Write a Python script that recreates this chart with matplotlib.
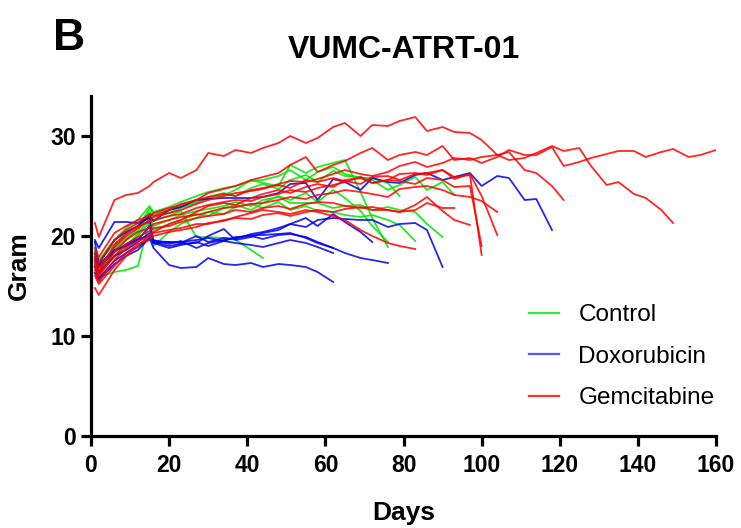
import matplotlib
matplotlib.use('Agg')
import matplotlib.pyplot as plt
from matplotlib.lines import Line2D

plt.rcParams['font.family'] = ['Liberation Sans', 'DejaVu Sans']

# Measurement days (shared grid); each mouse uses the first len(weights) days
DAYS = [1, 2, 6, 9, 12, 15, 16, 20, 23, 27, 30, 34, 37, 41, 44, 48, 51, 55, 58, 62,
        65, 69, 72, 76, 79, 83, 86, 90, 93, 97, 100, 104, 107, 111, 114, 118, 121, 125,
        128, 132, 135, 139, 142, 146, 149, 153, 156, 160]

GROUPS = ['Control', 'Doxorubicin', 'Gemcitabine']

control_weights = [
    [17.9, 17.0, 18.8, 19.8, 20.5, 22.3, 21.5, 22.0, 22.5, 19.9, 19.9, 19.8, 19.6, 18.6, 17.8],
    [17.6, 16.5, 18.6, 19.6, 20.8, 22.8, 22.2, 22.6, 22.9, 23.4, 23.8, 24.1, 24.6, 25.6, 25.3,
     25.0, 27.1, 26.3, 26.9, 27.3, 27.6, 24.4, 21.8, 18.9],
    [18.2, 17.4, 19.2, 20.3, 21.0, 22.4, 22.0, 22.3, 22.8, 23.3, 23.9, 24.3, 24.0, 24.8, 25.2,
     24.7, 25.6, 26.1, 25.4, 26.5, 26.0, 25.9, 25.6, 24.6, 25.1, 25.9, 24.6, 25.4, 24.1],
    [17.0, 16.2, 18.0, 19.0, 20.2, 21.8, 21.0, 21.6, 22.1, 22.5, 22.7, 23.0, 23.4, 23.0, 23.6,
     23.9, 23.3, 23.3, 23.3, 22.8, 23.0, 23.1, 22.6, 22.9, 22.6, 22.4, 21.2, 19.9],
    [16.3, 15.9, 16.4, 16.6, 17.0, 21.5, 19.0, 20.4, 21.2, 21.8, 22.4, 22.2, 22.9, 23.2, 22.8,
     23.4, 22.6, 23.0, 22.5, 22.4, 22.1, 21.9, 22.1, 21.6, 21.1, 19.5],
    [18.6, 17.6, 19.6, 20.8, 21.6, 23.0, 22.4, 22.9, 23.4, 24.0, 24.4, 24.8, 25.0, 25.5, 25.6,
     26.0, 26.6, 25.6, 26.4, 26.9, 26.2, 25.8, 25.8, 25.3, 24.0],
    [17.3, 16.8, 17.9, 19.0, 20.0, 21.4, 20.6, 21.2, 21.6, 22.2, 22.0, 22.8, 23.1, 22.6, 23.3,
     24.0, 23.6, 24.3, 23.4, 24.6, 23.8, 22.5, 21.0, 19.4],
]

doxorubicin_weights = [
    [16.9, 15.8, 17.5, 18.3, 18.9, 19.8, 18.8, 17.1, 16.8, 16.9, 17.8, 17.2, 17.1, 17.3, 16.9,
     17.2, 17.1, 16.9, 16.4, 15.4],
    [16.3, 15.6, 17.2, 18.0, 18.6, 19.8, 19.3, 18.8, 19.1, 19.4, 19.0, 19.5, 19.3, 19.1, 18.9,
     19.3, 19.6, 19.3, 18.9, 18.3],
    [17.5, 16.4, 18.0, 18.6, 19.4, 20.3, 19.6, 19.2, 19.5, 18.8, 19.3, 19.6, 19.8, 20.1, 20.1,
     20.2, 20.3, 19.8, 19.3, 18.8, 18.3, 17.8, 17.6, 17.3],
    [18.2, 17.1, 18.6, 19.0, 19.6, 21.0, 19.4, 19.0, 19.2, 19.3, 20.0, 20.7, 19.6, 19.9, 20.3,
     20.6, 21.2, 21.8, 21.0, 22.2, 21.4, 20.4, 19.4],
    [17.8, 16.9, 18.4, 19.2, 19.7, 20.0, 19.5, 19.4, 19.3, 20.0, 19.4, 19.8, 19.7, 20.2, 20.4,
     20.8, 21.2, 20.9, 21.6, 21.8, 21.7, 21.6, 21.6, 20.9, 21.2, 21.3, 20.6, 16.9],
    [19.4, 17.2, 19.6, 20.4, 21.0, 22.0, 21.5, 22.6, 22.9, 23.6, 23.7, 23.8, 23.8, 23.8, 23.9,
     24.3, 25.2, 25.3, 23.6, 25.7, 25.4, 24.6, 25.8, 25.4, 25.3, 26.1, 26.3, 25.6, 25.9, 26.3,
     25.0, 26.0, 25.8, 23.6, 23.7, 20.6],
    [19.6, 18.8, 21.4, 21.4, 21.3, 21.8, 19.3, 19.4, 19.4, 19.6, 19.8, 19.5, 19.9, 20.0, 19.7,
     20.1, 20.2, 19.9, 19.4, 18.8],
]

gemcitabine_weights = [
    [21.3, 19.9, 23.6, 24.1, 24.3, 25.0, 25.4, 26.3, 25.8, 26.6, 28.3, 28.0, 28.6, 28.3, 28.8,
     29.3, 30.0, 29.3, 29.8, 30.9, 31.3, 30.0, 31.1, 31.0, 31.5, 31.9, 30.5, 30.9, 30.4, 30.3,
     29.6, 28.1, 27.6, 27.8, 28.3, 29.0, 28.5, 28.8, 27.0, 25.1, 25.4, 24.2, 23.8, 22.6, 21.3],
    [18.4, 17.3, 19.6, 20.6, 21.3, 22.2, 22.0, 22.6, 23.2, 23.6, 24.3, 24.7, 25.0, 25.6, 25.9,
     26.3, 27.1, 27.9, 26.4, 27.1, 27.5, 28.3, 28.8, 27.6, 28.1, 28.4, 28.1, 29.0, 27.6, 27.8,
     27.3, 27.9, 28.6, 28.1, 28.1, 28.9, 27.0, 27.4, 27.8, 28.2, 28.5, 28.5, 27.9, 28.4, 28.7,
     27.9, 28.1, 28.6],
    [17.9, 16.8, 18.9, 20.0, 20.8, 21.6, 21.9, 22.3, 22.6, 23.2, 23.6, 24.0, 24.3, 24.5, 24.7,
     25.2, 25.5, 25.4, 25.7, 26.2, 26.6, 26.2, 26.0, 26.4, 27.0, 27.4, 26.9, 27.3, 27.8, 27.6,
     27.9, 28.1, 28.4, 26.6, 26.3, 25.0, 23.6],
    [17.6, 16.4, 19.1, 20.2, 21.0, 21.4, 21.6, 22.0, 22.2, 22.8, 23.1, 23.4, 23.6, 23.5, 23.9,
     24.2, 24.6, 24.4, 24.8, 25.1, 25.4, 25.9, 25.3, 25.6, 26.2, 26.3, 26.1, 26.6, 25.9, 26.1,
     18.1],
    [18.8, 17.9, 20.3, 21.0, 21.6, 22.0, 22.3, 22.8, 23.1, 23.6, 23.9, 24.2, 24.0, 24.6, 24.8,
     25.1, 24.8, 25.6, 25.4, 25.8, 25.5, 25.2, 25.9, 26.0, 25.6, 26.2, 26.3, 26.6, 25.7, 26.2,
     24.0, 20.1],
    [17.2, 16.1, 18.4, 19.6, 20.4, 20.8, 21.2, 21.6, 21.9, 22.1, 22.4, 22.8, 22.9, 23.2, 23.3,
     23.6, 23.9, 23.7, 24.1, 24.3, 24.6, 24.4, 24.2, 23.9, 24.7, 24.9, 25.0, 24.6, 24.1, 23.9,
     23.5, 22.4],
    [17.0, 16.0, 18.0, 19.2, 19.9, 20.5, 20.8, 21.0, 21.4, 21.8, 22.0, 22.2, 22.6, 22.4, 22.8,
     23.0, 22.7, 23.2, 23.4, 23.3, 23.0, 22.8, 22.9, 22.6, 22.4, 22.6, 23.3, 22.8, 22.8],
    [16.6, 15.4, 17.6, 18.8, 19.5, 20.0, 20.3, 20.6, 20.8, 21.2, 21.2, 21.6, 21.8, 21.7, 22.1,
     22.3, 22.0, 22.4, 22.6, 22.4, 22.7, 22.9, 22.6, 22.6, 22.4, 23.1, 23.9, 22.5, 21.6, 21.1],
    [16.0, 15.2, 17.0, 18.3, 19.2, 19.6, 20.0, 20.4, 20.6, 20.9, 21.3, 21.5, 21.9, 22.3, 22.6,
     22.4, 22.2, 22.6, 22.4, 22.0, 21.6, 20.6, 20.0, 19.3, 19.0, 18.7],
    [14.8, 14.1, 16.6, 18.0, 19.0, 20.1, 20.4, 21.2, 21.6, 22.4, 23.0, 23.3, 23.1, 23.8, 24.2,
     24.6, 24.3, 24.9, 25.2, 24.9, 25.6, 25.8, 25.3, 25.6, 25.5, 25.2, 25.8, 25.6, 24.9, 25.0,
     19.0],
]

COLORS = ['#00e600', '#0000f0', '#ff0000']
LEGEND_COLORS = ['#33ee33', '#5555ee', '#ff3333']

fig = plt.figure(figsize=(7.41, 5.28), dpi=100)
ax = fig.add_axes([0.1228, 0.1742, 0.8435, 0.644])

for weights, col in zip([control_weights, doxorubicin_weights, gemcitabine_weights], COLORS):
    for w in weights:
        ax.plot(DAYS[:len(w)], w, color=col, lw=1.3, alpha=0.85)

ax.set_xlim(0, 160)
ax.set_ylim(0, 34)
ax.set_xticks(range(0, 161, 20))
ax.set_yticks([0, 10, 20, 30])
for s in ['top', 'right']:
    ax.spines[s].set_visible(False)
for s in ['left', 'bottom']:
    ax.spines[s].set_linewidth(2.3)
ax.tick_params(width=2.3, length=7, labelsize=16.5)
ax.tick_params(axis='x', pad=6)
ax.tick_params(axis='y', pad=4)
for lab in ax.get_xticklabels() + ax.get_yticklabels():
    lab.set_fontweight('bold')

ax.set_xlabel('Days', fontsize=19, fontweight='bold', labelpad=17)
ax.set_ylabel('Gram', fontsize=19, fontweight='bold', labelpad=14)
ax.set_title('VUMC-ATRT-01', fontsize=23, fontweight='bold', pad=27)
fig.text(0.072, 0.905, 'B', fontsize=32, fontweight='bold')

handles = [Line2D([], [], color=c, lw=1.6) for c in LEGEND_COLORS]
ax.legend(handles, GROUPS, loc='upper left', bbox_to_anchor=(0.70, 0.387),
          frameon=False, fontsize=17.5, handlelength=1.25, handletextpad=0.8,
          labelspacing=0.8, borderpad=0, borderaxespad=0)

fig.savefig('out.png', dpi=100)
